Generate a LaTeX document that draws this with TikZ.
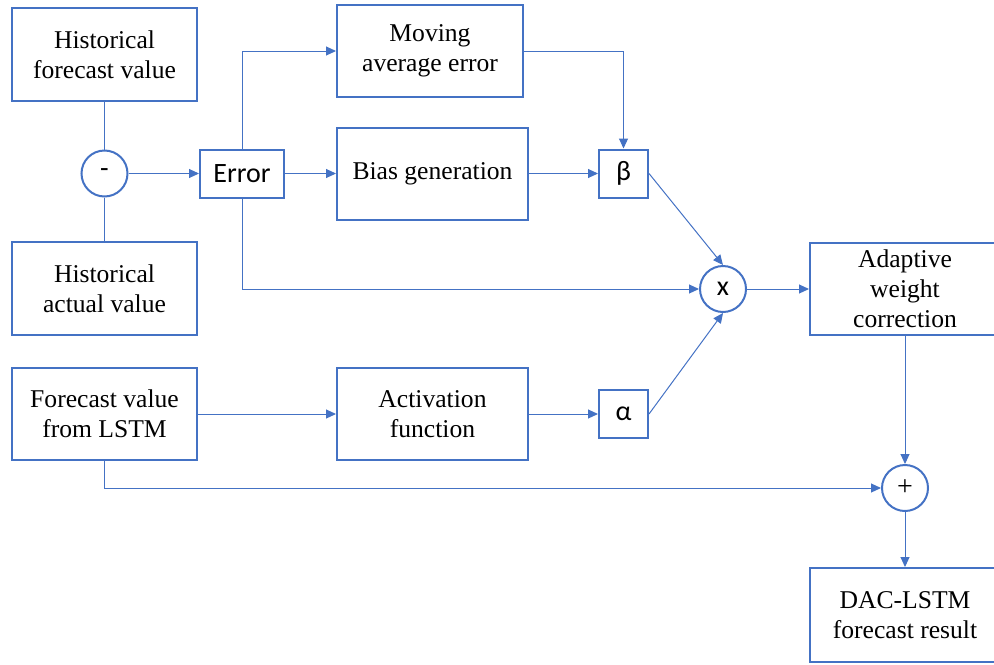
\documentclass[tikz,border=0pt]{standalone}
\usepackage{fontspec}
\setmainfont{Liberation Serif}
\newfontfamily\opfont{Carlito}
\usetikzlibrary{arrows.meta}
\definecolor{boxblue}{HTML}{4472C4}

\tikzset{
    block/.style={draw=boxblue, line width=1pt, align=center, inner sep=0pt,
        font=\fontsize{12.8}{15}\selectfont},
    small/.style={draw=boxblue, line width=1pt, inner sep=0pt,
        minimum width=24.5pt, minimum height=24pt, font=\opfont\fontsize{14}{16}\selectfont},
    op/.style={circle, draw=boxblue, line width=1pt, inner sep=0pt,
        minimum size=23pt, font=\opfont\fontsize{14}{16}\selectfont},
    link/.style={draw=boxblue, line width=0.5pt},
    flow/.style={link, -{Triangle[length=5pt, width=4.5pt]}}
}

\begin{document}
\begin{tikzpicture}[x=0.5pt, y=-0.5pt]
    \clip (0,0) rectangle (994,664);

    % error branch
    \node[block, minimum width=92.5pt, minimum height=46.5pt] (histfc) at (104.5,54.5) {Historical\\forecast value};
    \node[block, minimum width=92.5pt, minimum height=46.5pt] (histact) at (104.5,288.5) {Historical\\actual value};
    \node[op] (minus) at (104.5,173.5) {-};
    \node[small, minimum width=42pt, font=\opfont\fontsize{14}{16}\selectfont] (err) at (242,173.5) {Error};

    % upper blocks
    \node[block, minimum width=93pt, minimum height=46pt] (mavg) at (430,51) {Moving\\average error};
    \node[block, minimum width=95.5pt, minimum height=46pt] (bias) at (432.5,173.5) {Bias generation};
    \node[small] (beta) at (623.5,173.5) {β};

    % product and correction
    \node[op] (times) at (723,289) {x};
    \node[block, minimum width=95pt, minimum height=46pt] (adapt) at (905,289) {Adaptive\\weight\\correction};

    % LSTM branch
    \node[block, minimum width=92.5pt, minimum height=46pt] (lstm) at (104.5,414) {Forecast value\\from LSTM};
    \node[block, minimum width=95.5pt, minimum height=46pt] (activ) at (432.5,414) {Activation\\function};
    \node[small] (alpha) at (623.5,414) {α};

    % output
    \node[op, font=\fontsize{14}{16}\selectfont] (plus) at (905,488) {+};
    \node[block, minimum width=95pt, minimum height=47pt] (result) at (905,615) {DAC-LSTM\\forecast result};

    % connectors
    \draw[link] (histfc) -- (minus);
    \draw[link] (histact) -- (minus);
    \draw[flow] (minus) -- (err);
    \draw[flow] (err.north) |- (mavg.west);
    \draw[flow] (err) -- (bias);
    \draw[flow] (err.south) |- (times.west);
    \draw[flow] (mavg.east) -| (beta.north);
    \draw[flow] (bias) -- (beta);
    \draw[flow] (beta.east) -- (times.north);
    \draw[flow] (alpha.east) -- (times.south);
    \draw[flow] (times) -- (adapt);
    \draw[flow] (lstm) -- (activ);
    \draw[flow] (activ) -- (alpha);
    \draw[flow] (lstm.south) |- (plus.west);
    \draw[flow] (adapt) -- (plus);
    \draw[flow] (plus) -- (result);
\end{tikzpicture}
\end{document}
